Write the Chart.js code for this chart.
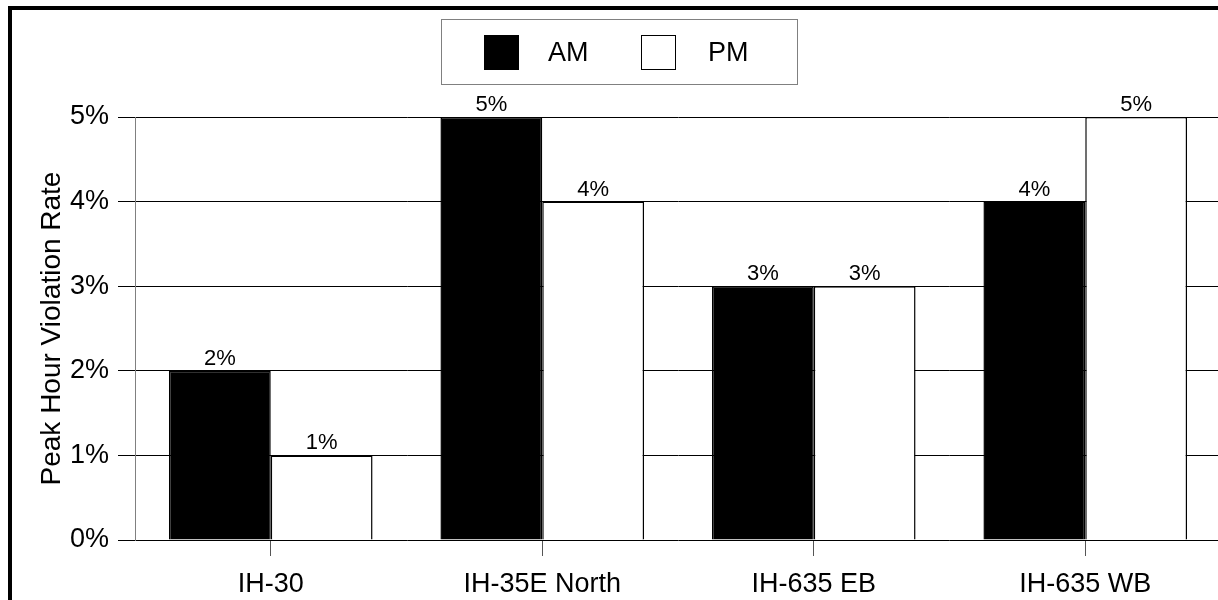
<!DOCTYPE html>
<html>
<head>
<meta charset="utf-8">
<script src="https://cdn.jsdelivr.net/npm/chart.js@4"></script>
<style>
  html, body { margin: 0; padding: 0; overflow: hidden; background: #fff; }
  #wrap { position: relative; width: 1221px; height: 600px; }
  #frame {
    position: absolute; left: 8px; top: 6px; width: 2000px; height: 2000px;
    border: 4px solid #000; pointer-events: none;
  }
</style>
</head>
<body>
<div id="wrap">
  <canvas id="violation-chart" width="1221" height="600"></canvas>
  <div id="frame"></div>
</div>
<script>
const corridors = ["IH-30", "IH-35E North", "IH-635 EB", "IH-635 WB"];
const amRate = [2, 5, 3, 4];
const pmRate = [1, 4, 3, 5];
const yTicks = [0, 1, 2, 3, 4, 5];

const FONT = "'Liberation Sans', Arial, sans-serif";

// value labels above each bar
const barLabels = {
  id: "barLabels",
  afterDatasetsDraw(chart) {
    const { ctx } = chart;
    ctx.save();
    ctx.font = `22px ${FONT}`;
    ctx.fillStyle = "#000";
    ctx.textAlign = "center";
    ctx.textBaseline = "alphabetic";
    chart.data.datasets.forEach((ds, i) => {
      chart.getDatasetMeta(i).data.forEach((bar, j) => {
        ctx.fillText(ds.data[j] + "%", bar.x, bar.y - 6);
      });
    });
    ctx.restore();
  },
};

// boxed legend at the top
const boxedLegend = {
  id: "boxedLegend",
  afterDraw(chart) {
    const { ctx } = chart;
    const left = 441, top = 19, w = 356, h = 65;
    ctx.save();
    ctx.strokeStyle = "#808080";
    ctx.lineWidth = 1;
    ctx.strokeRect(left + 0.5, top + 0.5, w, h);
    const items = [
      { box: 484, text: 548 },
      { box: 641, text: 708 },
    ];
    ctx.font = `27px ${FONT}`;
    ctx.textBaseline = "middle";
    chart.data.datasets.forEach((ds, i) => {
      const it = items[i];
      ctx.fillStyle = ds.backgroundColor;
      ctx.fillRect(it.box, 35, 35, 35);
      ctx.strokeStyle = "#000";
      ctx.strokeRect(it.box + 0.5, 35.5, 34, 34);
      ctx.fillStyle = "#000";
      ctx.fillText(ds.label, it.text, 54);
    });
    ctx.restore();
  },
};

new Chart(document.getElementById("violation-chart"), {
  type: "bar",
  data: {
    labels: corridors,
    datasets: [
      {
        label: "AM",
        data: amRate,
        backgroundColor: "#000",
        borderColor: "#000",
        borderWidth: 1.5,
      },
      {
        label: "PM",
        data: pmRate,
        backgroundColor: "#fff",
        borderColor: "#000",
        borderWidth: 1.5,
      },
    ],
  },
  options: {
    responsive: false,
    animation: false,
    layout: { padding: { top: 117, left: 10, right: 0, bottom: 2 } },
    categoryPercentage: 0.75,
    barPercentage: 1,
    plugins: {
      legend: { display: false },
      tooltip: { enabled: false },
    },
    scales: {
      x: {
        afterFit(scale) {
          scale.height = 58;
        },
        grid: {
          offset: false,
          drawOnChartArea: false,
          tickLength: 16,
          color: "#555",
        },
        border: { display: false },
        ticks: { color: "#000", font: { family: FONT, size: 27 }, padding: 12 },
      },
      y: {
        min: 0,
        max: 5,
        afterBuildTicks(scale) {
          scale.ticks = yTicks.map((v) => ({ value: v }));
        },
        afterFit(scale) {
          scale.width = 125;
        },
        grid: { color: "#000", tickLength: 17, lineWidth: 1 },
        border: { color: "#808080" },
        ticks: {
          color: "#000",
          font: { family: FONT, size: 27 },
          padding: 9,
          callback: (v) => v + "%",
        },
        title: {
          display: true,
          text: "Peak Hour Violation Rate",
          color: "#000",
          font: { family: FONT, size: 28 },
          padding: { top: 25, bottom: 0 },
        },
      },
    },
  },
  plugins: [barLabels, boxedLegend],
});
</script>
</body>
</html>
